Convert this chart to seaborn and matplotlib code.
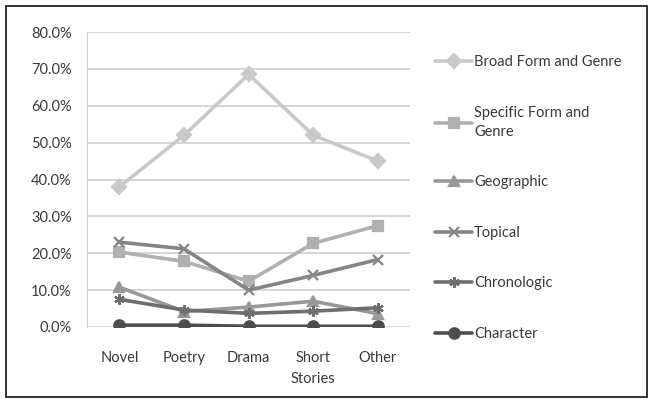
import matplotlib.pyplot as plt
import seaborn as sns
import pandas as pd

# Chart data (share of headings, percent)
genres = ['Novel', 'Poetry', 'Drama', 'Short\nStories', 'Other']
series = ['Broad Form and Genre', 'Specific Form and\nGenre', 'Geographic',
          'Topical', 'Chronologic', 'Character']
broad = [38.0, 52.0, 68.5, 52.0, 45.0]
specific = [20.3, 17.8, 12.4, 22.7, 27.5]
geographic = [10.8, 4.2, 5.4, 7.0, 3.6]
topical = [23.0, 21.2, 10.0, 14.0, 18.3]
chronologic = [7.5, 4.6, 3.7, 4.3, 5.2]
character = [0.5, 0.5, 0.2, 0.2, 0.2]

values = [broad, specific, geographic, topical, chronologic, character]
colors = ['#c9c9c9', '#b0b0b0', '#989898', '#858585', '#6e6e6e', '#4d4d4d']
markers = ['D', 's', '^', 'x', (6, 2, 0), 'o']

sns.set_style('white')
plt.rcParams['font.family'] = ['Lato', 'DejaVu Sans']

fig = plt.figure(figsize=(6.5, 4), dpi=100)
ax = fig.add_axes([0.134, 0.1825, 0.497, 0.7375])

for name, vals, c, m in zip(series, values, colors, markers):
    d = pd.DataFrame({'genre': genres, 'pct': vals})
    sns.lineplot(data=d, x='genre', y='pct', sort=False, color=c, marker=m,
                 linewidth=2.6, markersize=7.5, markeredgewidth=1.6,
                 markeredgecolor=c, label=name, ax=ax)

ax.set_ylim(0, 80)
ax.set_xlim(-0.5, 4.5)
ax.set_yticks(range(0, 81, 10))
ax.set_yticklabels([f'{t:.1f}%' for t in range(0, 81, 10)])
ax.set_xlabel('')
ax.set_ylabel('')
ax.grid(axis='y', color='#d0d0d0', linewidth=1.2)
ax.set_axisbelow(True)
for s in ['top', 'right', 'bottom']:
    ax.spines[s].set_visible(False)
ax.spines['left'].set_color('#d0d0d0')
ax.tick_params(axis='both', labelsize=10.5, colors='#3a3a3a', length=0)
ax.tick_params(axis='y', pad=11)
ax.tick_params(axis='x', pad=17)
for lbl in ax.get_xticklabels():
    lbl.set_linespacing(1.7)

handles, labels = ax.get_legend_handles_labels()
leg = ax.legend(handles, labels, loc='upper left', bbox_to_anchor=(1.035, 0.965),
                frameon=False, fontsize=10.5, labelspacing=2.5, handlelength=2.6,
                handletextpad=0.1, labelcolor='#3a3a3a')
for t in leg.get_texts():
    t.set_linespacing(1.45)

fig.add_artist(plt.Rectangle((0.009, 0.008), 0.986, 0.978, transform=fig.transFigure,
                             fill=False, edgecolor='#222222', linewidth=1.3))

fig.savefig('out.png', dpi=100)
